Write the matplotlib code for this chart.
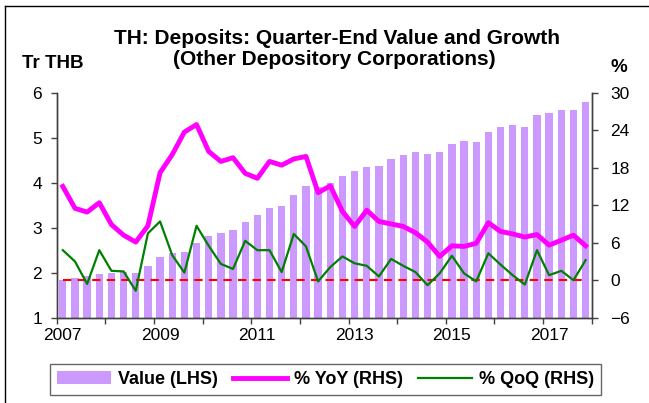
import numpy as np
import matplotlib
matplotlib.use("Agg")
import matplotlib.pyplot as plt
from matplotlib.patches import Patch
from matplotlib.lines import Line2D

plt.rcParams['font.family'] = ['Liberation Sans', 'DejaVu Sans']

# Quarterly data, 2007Q1 - 2017Q4
value_lhs = [1.84, 1.89, 1.93, 1.97, 2.00, 2.02, 2.00, 2.15, 2.34, 2.43, 2.46, 2.67,
             2.82, 2.89, 2.94, 3.13, 3.28, 3.44, 3.48, 3.73, 3.93, 3.91, 4.00, 4.15,
             4.26, 4.34, 4.37, 4.53, 4.62, 4.68, 4.64, 4.69, 4.87, 4.93, 4.91, 5.12,
             5.24, 5.28, 5.24, 5.50, 5.54, 5.62, 5.62, 5.80]
yoy_rhs = [15.0, 11.5, 10.9, 12.4, 8.9, 7.2, 6.1, 8.7, 17.2, 20.1, 23.7, 24.9,
           20.6, 19.0, 19.6, 17.1, 16.3, 19.0, 18.4, 19.4, 19.8, 14.0, 15.1, 11.0,
           8.6, 11.2, 9.4, 9.0, 8.6, 7.6, 6.1, 3.8, 5.5, 5.4, 5.9, 9.2,
           7.8, 7.4, 6.9, 7.3, 5.6, 6.4, 7.2, 5.5]
qoq_rhs = [4.8, 3.0, -0.6, 4.8, 1.5, 1.4, -1.7, 7.5, 9.4, 4.0, 1.2, 8.7,
           5.5, 2.6, 1.8, 6.3, 4.8, 4.8, 1.3, 7.4, 5.4, -0.2, 2.1, 3.8,
           2.7, 2.3, 0.6, 3.4, 2.3, 1.3, -0.8, 1.1, 3.9, 1.1, -0.2, 4.3,
           2.5, 0.8, -0.7, 4.8, 0.8, 1.5, 0.0, 3.2]
start_year = 2007
year_labels = [2007, 2009, 2011, 2013, 2015, 2017]

n = len(value_lhs)
x = start_year + 0.125 + 0.25 * np.arange(n)

fig = plt.figure(figsize=(6.49, 4.03), dpi=100)
ax = fig.add_axes([0.0874, 0.2117, 0.8243, 0.5583])
ax2 = ax.twinx()

ax.bar(x, value_lhs, width=0.15, color='#CC99FF', zorder=1)
ax.set_ylim(1, 6)
ax.set_xlim(2007, 2018)
ax.set_yticks(range(1, 7))

ax2.plot([x[0], x[-1]], [0, 0], color='#FF0000', lw=1.5, ls=(0, (4, 3)), zorder=2)
ax2.plot(x, qoq_rhs, color='#008000', lw=1.6, zorder=3)
ax2.plot(x, yoy_rhs, color='#FF00FF', lw=3.5, zorder=4)
ax2.set_ylim(-6, 30)
ax2.set_yticks(range(-6, 31, 6))

# year ticks on the boundaries, labels centred on the first quarter
ax.set_xticks(range(2007, 2019))
ax.set_xticklabels([])
ax.set_xticks([y + 0.125 for y in year_labels], minor=True)
ax.set_xticklabels([str(y) for y in year_labels], minor=True)
ax.tick_params(axis='x', which='minor', length=0, labelsize=12.5, pad=7.5)

for a in (ax, ax2):
    a.spines['top'].set_visible(False)
    for s in a.spines.values():
        s.set_color('#404040')
        s.set_linewidth(1.0)
    a.tick_params(which='major', direction='out', length=4.5, width=1,
                  color='#404040', labelsize=12.5, pad=6)
ax2.tick_params(axis='y', pad=9)

fig.text(0.52, 0.905, 'TH: Deposits: Quarter-End Value and Growth',
         ha='center', va='center', fontsize=15, fontweight='bold')
fig.text(0.515, 0.852, '(Other Depository Corporations)',
         ha='center', va='center', fontsize=15, fontweight='bold')
fig.text(0.082, 0.843, 'Tr THB', ha='center', va='center', fontsize=13.5, fontweight='bold')
fig.text(0.954, 0.833, '%', ha='center', va='center', fontsize=13.5, fontweight='bold')

handles = [Patch(facecolor='#CC99FF', edgecolor='none'),
           Line2D([], [], color='#FF00FF', lw=3.5),
           Line2D([], [], color='#008000', lw=1.6)]
leg = fig.legend(handles, ['Value (LHS)', '% YoY (RHS)', '% QoQ (RHS)'],
                 loc='center', bbox_to_anchor=(0.5016, 0.0583), ncol=3,
                 frameon=True, fancybox=False, handlelength=3.0,
                 columnspacing=0.8, handletextpad=0.4, borderpad=0.4,
                 prop={'weight': 'bold', 'size': 13})
leg.get_frame().set_edgecolor('#404040')
leg.get_frame().set_linewidth(1.0)

# outer frame (partially visible border)
fig.add_artist(Line2D([0.008, 0.008], [0, 0.985], transform=fig.transFigure,
                      color='black', lw=1))
fig.add_artist(Line2D([0.008, 1.0], [0.985, 0.985], transform=fig.transFigure,
                      color='black', lw=1))

fig.savefig('out.png', dpi=100)
